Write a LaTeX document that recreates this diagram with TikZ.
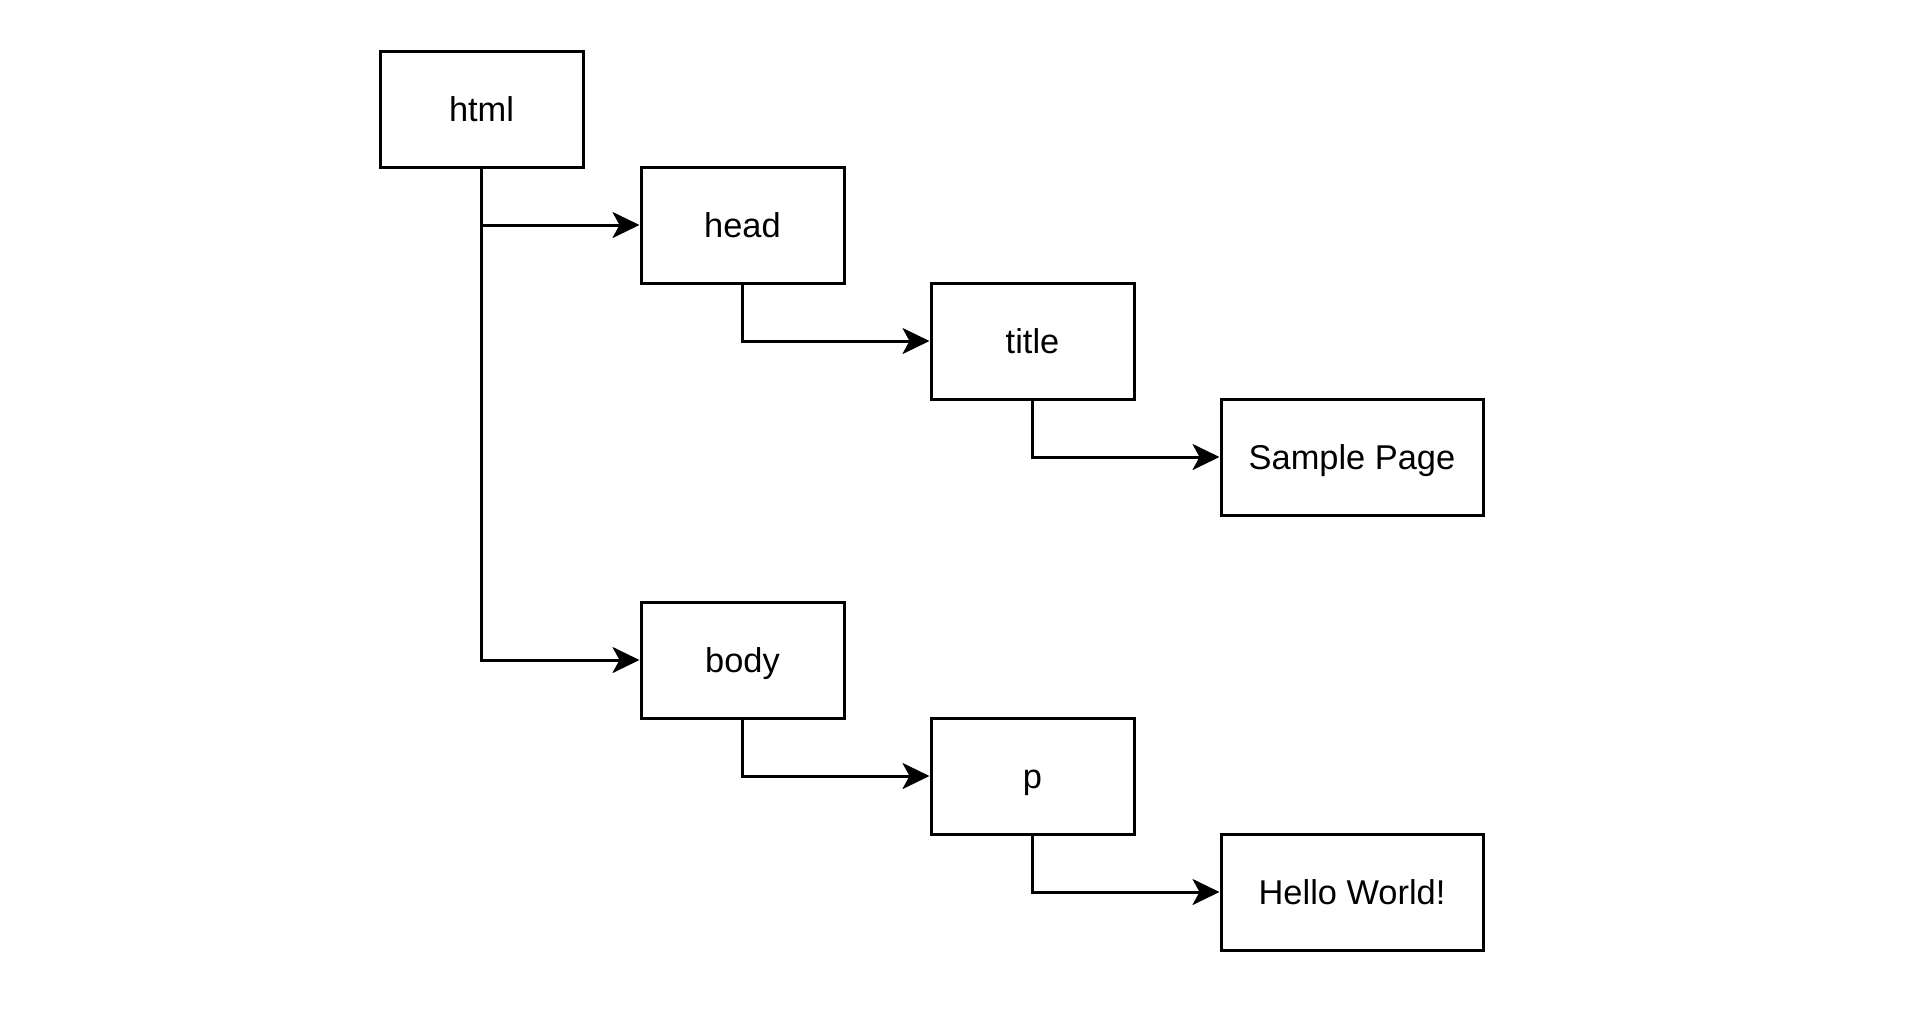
\documentclass[tikz,border=0pt]{standalone}
\usepackage{fontspec}
\setmainfont{Liberation Sans}
\usetikzlibrary{arrows.meta}
\tikzset{
  box/.style={draw=black, line width=1.5pt, fill=white, minimum width=101.5pt, minimum height=58pt, inner sep=0pt, text height=12.5pt, text depth=0pt, font=\fontsize{17.2}{20}\selectfont, anchor=center},
  wide/.style={box, minimum width=131pt},
  link/.style={line width=1.5pt, -{Stealth[length=13.5pt, width=13pt, inset=3.5pt]}}
}
\begin{document}
\begin{tikzpicture}[x=0.5pt, y=-0.5pt]
\useasboundingbox (0,0) rectangle (1908,1030);
\node[box] (html) at (481.5,109) {html};
\node[box] (head) at (742.5,225) {head};
\node[box] (title) at (1032.5,341) {title};
\node[wide] (sample) at (1352,457) {Sample Page};
\node[box] (body) at (742.5,660) {body};
\node[box] (p) at (1032.5,776) {p};
\node[wide] (hello) at (1352,892) {Hello World!};
\draw[link] (html.south) |- (head.west);
\draw[link] (html.south) |- (body.west);
\draw[link] (head.south) |- (title.west);
\draw[link] (title.south) |- (sample.west);
\draw[link] (body.south) |- (p.west);
\draw[link] (p.south) |- (hello.west);
\end{tikzpicture}
\end{document}
